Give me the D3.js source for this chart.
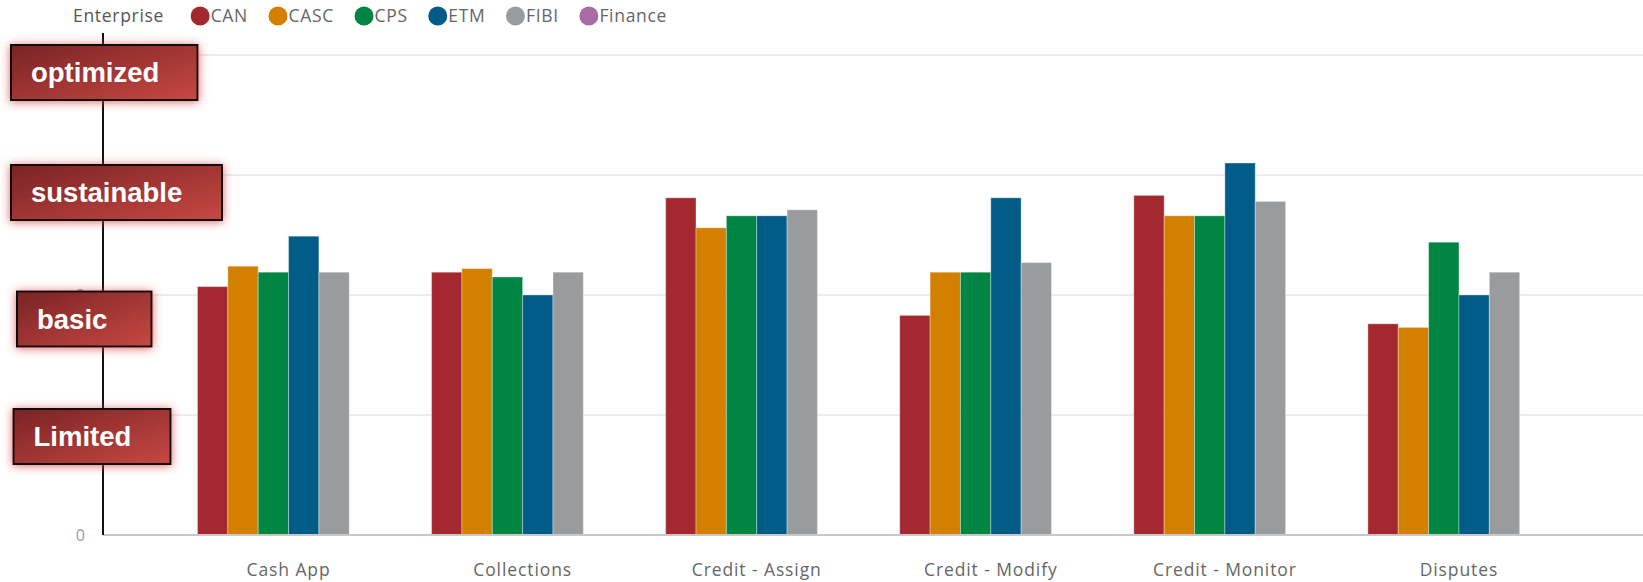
<!DOCTYPE html>
<html>
<head>
<meta charset="utf-8">
<script src="https://cdn.jsdelivr.net/npm/d3@7"></script>
<style>
	html, body { margin: 0; padding: 0; background: #fff; }
	svg { display: block; }
	.lbl { font-family: "Open Sans", sans-serif; }
</style>
</head>
<body>
<div id="chart"></div>
<script>
// categories and series
const categories = ["Cash App", "Collections", "Credit - Assign", "Credit - Modify", "Credit - Monitor", "Disputes"];
const series = ["CAN", "CASC", "CPS", "ETM", "FIBI", "Finance"];
const seriesColors = ["#a3282f", "#d37f00", "#008542", "#005c87", "#9a9b9d", "#a86ba4"];

// values per series (one per category), Finance has no data
const CAN = [2.07, 2.19, 2.81, 1.83, 2.83, 1.76];
const CASC = [2.24, 2.22, 2.56, 2.19, 2.66, 1.73];
const CPS = [2.19, 2.15, 2.66, 2.19, 2.66, 2.44];
const ETM = [2.49, 2.00, 2.66, 2.81, 3.10, 2.00];
const FIBI = [2.19, 2.19, 2.71, 2.27, 2.78, 2.19];
const Finance = [null, null, null, null, null, null];

const yTicks = [0, 1, 2, 3, 4];
const levelNames = ["Limited", "basic", "sustainable", "optimized"];

const width = 1643, height = 582;
const values = { CAN, CASC, CPS, ETM, FIBI, Finance };

const svg = d3.select("#chart").append("svg")
	.attr("width", width)
	.attr("height", height);

/* scales */
const axisX = 103;
const y = d3.scaleLinear().domain([0, 4]).range([535, 55]);
const x0 = d3.scaleBand().domain(categories).range([171.5, 1576]).paddingInner(0.222).paddingOuter(0.111);
const x1 = d3.scaleBand().domain(series).range([0, x0.bandwidth()]);
const color = d3.scaleOrdinal().domain(series).range(seriesColors);

/* gridlines */
svg.append("g").attr("class", "grid")
	.selectAll("line")
	.data(yTicks.filter(d => d > 0))
	.join("line")
		.attr("x1", axisX).attr("x2", width)
		.attr("y1", d => y(d)).attr("y2", d => y(d))
		.attr("stroke", "#ececec")
		.attr("stroke-width", 2);

/* bars */
const rows = categories.map((c, i) => ({ category: c, items: series.map(s => ({ key: s, value: values[s][i] })) }));

svg.append("g").attr("class", "bars")
	.selectAll("g")
	.data(rows)
	.join("g")
		.attr("transform", d => `translate(${x0(d.category)},0)`)
	.selectAll("rect")
	.data(d => d.items.filter(v => v.value != null))
	.join("rect")
		.attr("x", d => x1(d.key))
		.attr("y", d => y(d.value))
		.attr("width", x1.bandwidth())
		.attr("height", d => y(0) - y(d.value))
		.attr("fill", d => color(d.key))
		.attr("stroke", "rgba(255,255,255,0.35)")
		.attr("stroke-width", 1);

/* baseline */
svg.append("line")
	.attr("x1", axisX).attr("x2", width)
	.attr("y1", y(0)).attr("y2", y(0))
	.attr("stroke", "#c8c8c8")
	.attr("stroke-width", 2);

/* x axis labels */
const xAxis = svg.append("g")
	.attr("transform", `translate(0,${y(0)})`)
	.call(d3.axisBottom(x0).tickSize(0).tickPadding(29));
xAxis.select(".domain").remove();
xAxis.selectAll("text")
	.attr("class", "lbl")
	.attr("font-size", 17.5)
	.attr("letter-spacing", 0.9)
	.attr("fill", "#666");

/* y axis labels (mostly hidden behind the level boxes) */
const yAxis = svg.append("g")
	.attr("transform", `translate(${axisX},0)`)
	.call(d3.axisLeft(y).tickValues(yTicks).tickSize(0).tickPadding(18).tickFormat(d3.format("d")));
yAxis.select(".domain").remove();
yAxis.selectAll("text")
	.attr("class", "lbl")
	.attr("font-size", 16)
	.attr("fill", "#8d9bb0");

/* vertical axis line */
svg.append("line")
	.attr("x1", axisX).attr("x2", axisX)
	.attr("y1", 33).attr("y2", y(0))
	.attr("stroke", "#111")
	.attr("stroke-width", 2);

/* level boxes */
const defs = svg.append("defs");
const grad = defs.append("linearGradient")
	.attr("id", "boxGrad")
	.attr("x1", "0%").attr("y1", "0%").attr("x2", "100%").attr("y2", "100%");
grad.append("stop").attr("offset", "0%").attr("stop-color", "#7a2325");
grad.append("stop").attr("offset", "100%").attr("stop-color", "#c74842");

const glow = defs.append("filter")
	.attr("id", "glow")
	.attr("x", "-20%").attr("y", "-50%").attr("width", "140%").attr("height", "200%");
glow.append("feDropShadow")
	.attr("dx", 0).attr("dy", 1)
	.attr("stdDeviation", 5)
	.attr("flood-color", "#d53f3f")
	.attr("flood-opacity", 0.8);

// box placement relative to its gridline
const boxLayout = [
	{ x: 13.5, dy: -6, w: 157 },
	{ x: 17, dy: -3.5, w: 134.5 },
	{ x: 11, dy: -10, w: 211 },
	{ x: 11, dy: -10, w: 186.5 }
];
const boxH = 55;

const boxes = svg.append("g").attr("class", "levels")
	.selectAll("g")
	.data(levelNames)
	.join("g")
		.attr("transform", (d, i) => `translate(${boxLayout[i].x},${y(i + 1) + boxLayout[i].dy})`);

boxes.append("rect")
	.attr("width", (d, i) => boxLayout[i].w)
	.attr("height", boxH)
	.attr("fill", "url(#boxGrad)")
	.attr("stroke", "#111")
	.attr("stroke-width", 2)
	.attr("filter", "url(#glow)");

boxes.append("text")
	.attr("x", 20)
	.attr("y", 37)
	.attr("font-family", "'Liberation Sans', Arial, sans-serif")
	.attr("font-weight", "bold")
	.attr("font-size", 27.5)
	.attr("fill", "#fff")
	.text(d => d);

/* legend */
const legend = svg.append("g").attr("class", "legend");
const title = legend.append("text")
	.attr("class", "lbl")
	.attr("x", 73).attr("y", 22)
	.attr("font-size", 17.5)
	.attr("letter-spacing", 0.7)
	.attr("fill", "#555")
	.text("Enterprise");

let lx = 73 + title.node().getComputedTextLength() + 36;
series.forEach(s => {
	legend.append("circle")
		.attr("cx", lx).attr("cy", 16)
		.attr("r", 9.5)
		.attr("fill", color(s));
	const t = legend.append("text")
		.attr("class", "lbl")
		.attr("x", lx + 10.5).attr("y", 22)
		.attr("font-size", 17.5)
		.attr("letter-spacing", 0.7)
		.attr("fill", "#666")
		.text(s);
	lx += 10.5 + t.node().getComputedTextLength() + 30;
});
</script>
</body>
</html>
